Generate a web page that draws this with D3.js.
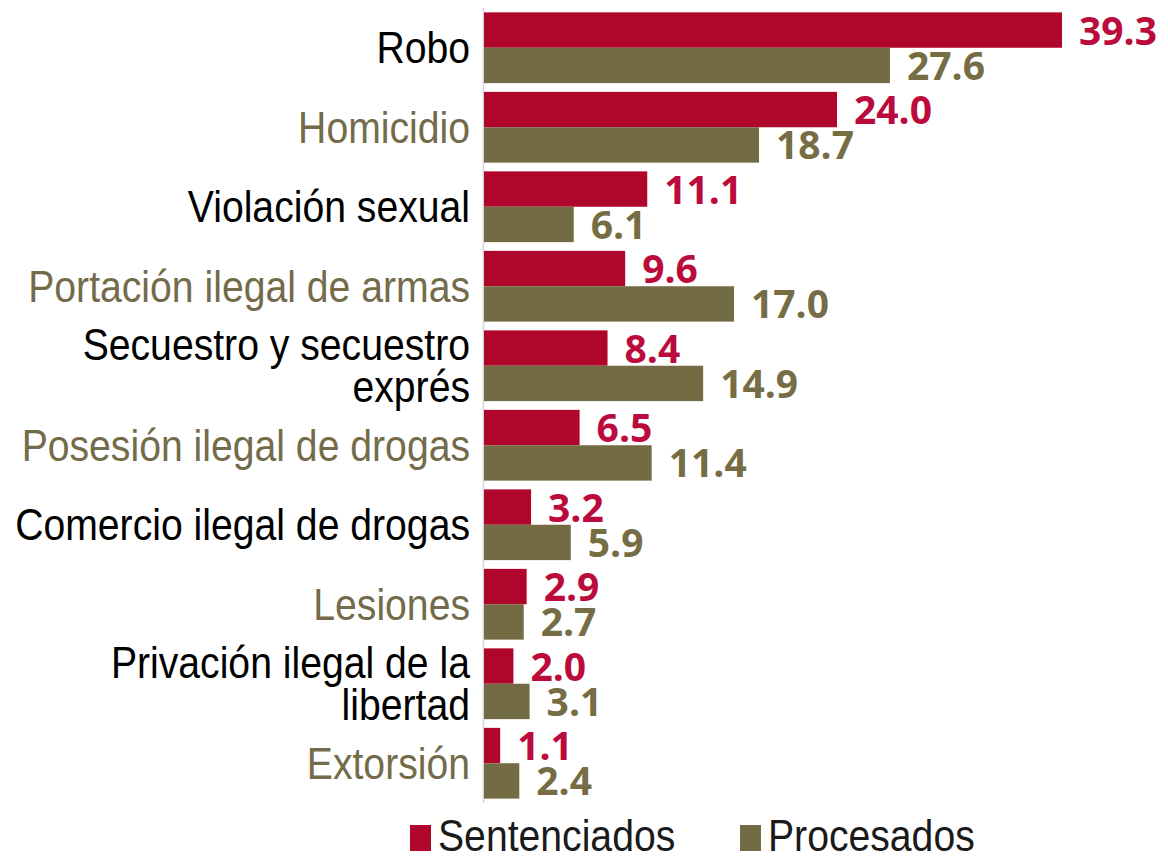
<!DOCTYPE html>
<html>
<head>
<meta charset="utf-8">
<script src="https://cdn.jsdelivr.net/npm/d3@7"></script>
<style>
  html, body { margin: 0; padding: 0; background: #fff; }
  svg { display: block; }
</style>
</head>
<body>
<svg id="chart" width="1168" height="856"></svg>
<script>
var categories = ['Robo', 'Homicidio', 'Violación sexual', 'Portación ilegal de armas',
  'Secuestro y secuestro exprés', 'Posesión ilegal de drogas', 'Comercio ilegal de drogas',
  'Lesiones', 'Privación ilegal de la libertad', 'Extorsión']
var sentenciados = [39.3, 24.0, 11.1, 9.6, 8.4, 6.5, 3.2, 2.9, 2.0, 1.1]
var procesados = [27.6, 18.7, 6.1, 17.0, 14.9, 11.4, 5.9, 2.7, 3.1, 2.4]
var seriesNames = ['Sentenciados', 'Procesados']
var labelLines = {
  'Secuestro y secuestro exprés': ['Secuestro y secuestro', 'exprés'],
  'Privación ilegal de la libertad': ['Privación ilegal de la', 'libertad']
}

var colors = { Sentenciados: '#b0062c', Procesados: '#736b43' }
var textColors = { Sentenciados: '#bb0b3c', Procesados: '#766d45' }
var labelColors = ['#000000', '#736b4a']
var squeeze = 0.89

var svg = d3.select('#chart')

var x = d3.scaleLinear()
    .domain([0, d3.max(sentenciados.concat(procesados))])
    .range([484, 1062])

var y = d3.scaleBand()
    .domain(categories)
    .range([8, 803])
    .paddingInner(0.11)
    .paddingOuter(0.055)

var sub = d3.scaleBand()
    .domain(seriesNames)
    .range([0, y.bandwidth()])

var rows = categories.map(function (c, i) {
  return { name: c, index: i, values: [
    { series: 'Sentenciados', value: sentenciados[i] },
    { series: 'Procesados', value: procesados[i] }
  ] }
})

// axis line
svg.append('line')
    .attr('x1', 483.5).attr('x2', 483.5)
    .attr('y1', 8).attr('y2', 803)
    .attr('stroke', '#d4d4d4')
    .attr('stroke-width', 1.5)

var row = svg.selectAll('g.row')
    .data(rows)
  .join('g')
    .attr('class', 'row')
    .attr('transform', function (d) { return 'translate(0,' + y(d.name) + ')' })

row.selectAll('rect')
    .data(function (d) { return d.values })
  .join('rect')
    .attr('x', x(0))
    .attr('y', function (d) { return sub(d.series) })
    .attr('width', function (d) { return x(d.value) - x(0) })
    .attr('height', sub.bandwidth())
    .attr('fill', function (d) { return colors[d.series] })

row.selectAll('text.value')
    .data(function (d) { return d.values })
  .join('text')
    .attr('class', 'value')
    .attr('x', function (d) { return x(d.value) + 17 })
    .attr('y', function (d) { return sub(d.series) + sub.bandwidth() / 2 + 14.5 })
    .attr('fill', function (d) { return textColors[d.series] })
    .style('font-family', '"Open Sans", sans-serif')
    .style('font-weight', 700)
    .style('font-size', '39px')
    .text(function (d) { return d.value.toFixed(1) })

// category labels
row.each(function (d) {
  var lines = labelLines[d.name] || [d.name]
  var mid = y.bandwidth() / 2
  var t = d3.select(this).append('g')
      .attr('transform', 'translate(470,0) scale(' + squeeze + ',1)')
    .append('text')
      .attr('text-anchor', 'end')
      .attr('fill', labelColors[d.index % 2])
      .style('font-family', '"Liberation Sans", Arial, sans-serif')
      .style('font-size', '44px')
  lines.forEach(function (line, k) {
    var off = (k - (lines.length - 1) / 2) * 42
    t.append('tspan')
        .attr('x', 0)
        .attr('y', mid + off + 15.5)
        .text(line)
  })
})

// legend
var legendX = [410, 740]
var legend = svg.selectAll('g.legend')
    .data(seriesNames)
  .join('g')
    .attr('class', 'legend')
    .attr('transform', function (d, i) { return 'translate(' + legendX[i] + ',0)' })

legend.append('rect')
    .attr('x', 0).attr('y', 825)
    .attr('width', 21).attr('height', 26)
    .attr('fill', function (d) { return colors[d] })

legend.append('g')
    .attr('transform', 'translate(28,0) scale(' + squeeze + ',1)')
  .append('text')
    .attr('x', 0)
    .attr('y', 851)
    .attr('fill', '#1a1a1a')
    .style('font-family', '"Liberation Sans", Arial, sans-serif')
    .style('font-size', '44px')
    .text(function (d) { return d })
</script>
</body>
</html>
